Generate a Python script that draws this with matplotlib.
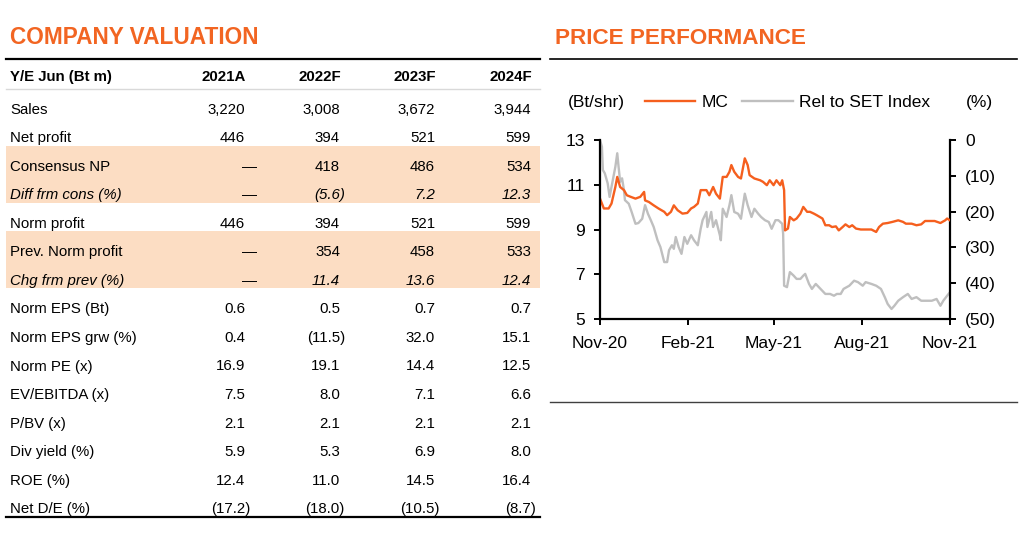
import matplotlib
matplotlib.use("Agg")
import matplotlib.pyplot as plt
import matplotlib.dates as mdates
from matplotlib.patches import Rectangle
from matplotlib.ticker import FuncFormatter
import pandas as pd

TITLE_ORANGE = "#F26522"
MC_ORANGE = "#F55F1E"
REL_GREY = "#BFBFBF"
SHADE = "#FCDDC3"

plt.rcParams["font.family"] = ["Liberation Sans", "DejaVu Sans"]

# ---- company valuation table ----
years = ["2021A", "2022F", "2023F", "2024F"]
row_labels = ["Sales", "Net profit", "Consensus NP", "Diff frm cons (%)",
              "Norm profit", "Prev. Norm profit", "Chg frm prev (%)",
              "Norm EPS (Bt)", "Norm EPS grw (%)", "Norm PE (x)",
              "EV/EBITDA (x)", "P/BV (x)", "Div yield (%)", "ROE (%)",
              "Net D/E (%)"]
sales = [3220, 3008, 3672, 3944]
net_profit = [446, 394, 521, 599]
consensus_np = [None, 418, 486, 534]
diff_cons = [None, -5.6, 7.2, 12.3]
norm_profit = [446, 394, 521, 599]
prev_norm_profit = [None, 354, 458, 533]
chg_prev = [None, 11.4, 13.6, 12.4]
norm_eps = [0.6, 0.5, 0.7, 0.7]
norm_eps_grw = [0.4, -11.5, 32.0, 15.1]
norm_pe = [16.9, 19.1, 14.4, 12.5]
ev_ebitda = [7.5, 8.0, 7.1, 6.6]
pbv = [2.1, 2.1, 2.1, 2.1]
div_yield = [5.9, 5.3, 6.9, 8.0]
roe = [12.4, 11.0, 14.5, 16.4]
net_de = [-17.2, -18.0, -10.5, -8.7]
row_values = [sales, net_profit, consensus_np, diff_cons, norm_profit,
              prev_norm_profit, chg_prev, norm_eps, norm_eps_grw, norm_pe,
              ev_ebitda, pbv, div_yield, roe, net_de]
row_decimals = [0, 0, 0, 1, 0, 0, 1, 1, 1, 1, 1, 1, 1, 1, 1]
shaded_rows = [2, 3, 5, 6]
italic_rows = [3, 6]

# ---- price performance (days since 1 Nov 2020) ----
mc_days = [0, 4, 9, 12, 16, 18, 21, 25, 28, 32, 37, 42, 46, 47, 51, 56, 61,
           67, 70, 74, 77, 81, 86, 91, 95, 98, 102, 105, 111, 114, 118, 121,
           125, 128, 132, 135, 137, 140, 144, 147, 151, 154, 156, 161, 167,
           170, 174, 177, 181, 184, 188, 190, 192, 193, 196, 198, 202, 205,
           209, 212, 216, 219, 223, 226, 232, 235, 239, 242, 246, 249, 253,
           256, 260, 263, 267, 272, 277, 283, 288, 291, 295, 300, 305, 311,
           316, 319, 325, 330, 335, 339, 344, 349, 355, 360, 362, 365]
mc_price = [10.38, 9.94, 9.94, 10.16, 10.90, 11.35, 10.90, 10.76, 10.53,
            10.46, 10.38, 10.46, 10.68, 10.30, 10.23, 10.08, 9.94, 9.79, 9.64,
            9.79, 10.08, 9.86, 9.71, 9.74, 9.94, 10.01, 10.16, 10.76, 10.76,
            10.53, 10.90, 10.60, 10.38, 11.35, 11.35, 11.58, 11.88, 11.58,
            11.35, 11.28, 12.18, 11.88, 11.43, 11.28, 11.20, 11.13, 10.98,
            11.20, 10.98, 11.20, 10.98, 11.20, 10.76, 8.96, 9.04, 9.56, 9.41,
            9.49, 9.71, 10.01, 9.79, 9.79, 9.71, 9.64, 9.49, 9.19, 9.19, 9.11,
            9.14, 8.96, 9.11, 9.23, 9.11, 9.19, 9.04, 9.00, 9.00, 9.00, 8.89,
            9.11, 9.26, 9.29, 9.34, 9.41, 9.34, 9.26, 9.26, 9.19, 9.23, 9.38,
            9.38, 9.38, 9.29, 9.41, 9.49, 9.41]
rel_days = [0, 2, 3, 5, 8, 10, 12, 14, 16, 18, 19, 21, 23, 25, 26, 30, 33, 37,
            40, 44, 47, 50, 53, 56, 60, 63, 67, 70, 72, 75, 77, 79, 82, 85, 88,
            91, 95, 98, 102, 105, 107, 111, 112, 116, 118, 121, 125, 126, 128,
            132, 135, 137, 140, 144, 147, 151, 154, 158, 161, 165, 168, 172,
            176, 179, 183, 186, 190, 191, 192, 195, 198, 202, 205, 209, 212,
            214, 218, 221, 225, 230, 235, 240, 244, 247, 251, 254, 260, 265,
            269, 274, 277, 283, 288, 293, 297, 300, 304, 307, 311, 316, 321,
            325, 330, 335, 340, 346, 351, 355, 358, 362, 365]
rel_pct = [0, -1.9, -8.4, -9.3, -12.1, -15.9, -13.1, -10.3, -7.5, -3.7, -6.5,
           -11.7, -10.7, -14.0, -16.8, -17.8, -20.1, -23.4, -23.2, -22.0,
           -18.2, -20.6, -22.4, -24.3, -28.0, -29.9, -34.1, -34.1, -30.8,
           -29.4, -30.4, -27.1, -29.9, -31.8, -27.1, -29.0, -26.6, -28.0,
           -29.4, -24.8, -22.4, -20.1, -24.3, -20.1, -24.3, -22.4, -26.6,
           -28.0, -19.2, -21.5, -18.2, -15.4, -20.1, -20.6, -22.0, -15.0,
           -18.2, -21.5, -19.2, -20.6, -21.5, -22.4, -22.9, -24.8, -22.4,
           -22.4, -23.4, -26.2, -40.7, -41.1, -36.9, -37.9, -38.8, -38.8,
           -37.9, -37.4, -40.2, -41.6, -40.2, -41.6, -43.0, -43.0, -43.5,
           -43.0, -43.0, -41.6, -40.7, -39.3, -39.7, -40.7, -39.7, -40.2,
           -40.7, -41.6, -43.9, -45.8, -47.2, -46.3, -44.9, -43.9, -43.0,
           -44.4, -43.9, -44.9, -44.9, -44.9, -44.4, -46.3, -44.9, -43.5,
           -42.5]

START = pd.Timestamp("2020-11-01")
mc_dates = START + pd.to_timedelta(mc_days, unit="D")
rel_dates = START + pd.to_timedelta(rel_days, unit="D")


def fmt_value(v, decimals):
    if v is None:
        return "\u2014"
    s = f"{abs(v):,.{decimals}f}"
    return f"({s})" if v < 0 else s


W, H = 1024, 539
fig = plt.figure(figsize=(W / 100, H / 100), dpi=100)

# overlay in pixel coordinates for the table, titles and rules
ov = fig.add_axes([0, 0, 1, 1])
ov.set_xlim(0, W)
ov.set_ylim(H, 0)
ov.axis("off")

ov.text(10, 44, "COMPANY VALUATION", color=TITLE_ORANGE, fontsize=16.3,
        fontweight="bold", va="baseline")
ov.text(555, 44, "PRICE PERFORMANCE", color=TITLE_ORANGE, fontsize=16.2,
        fontweight="bold", va="baseline")

ROW_TOP, ROW_H = 88.5, 28.55
col_right = [245, 340, 435, 531]
body_fs = 10.8

for i in shaded_rows:
    ov.add_patch(Rectangle((6, ROW_TOP + i * ROW_H), 534, ROW_H,
                           facecolor=SHADE, edgecolor="none", zorder=0))

ov.plot([6, 540], [59, 59], color="black", lw=1.6)
ov.plot([6, 540], [ROW_TOP, ROW_TOP], color="#D9D9D9", lw=1.0)
ov.plot([6, 540], [517, 517], color="black", lw=1.6)

ov.text(10, 81, "Y/E Jun (Bt m)", fontsize=body_fs, fontweight="bold",
        va="baseline")
for c, yr in enumerate(years):
    ov.text(col_right[c] + 1, 81, yr, fontsize=body_fs, fontweight="bold",
            ha="right", va="baseline")

for i, (label, vals) in enumerate(zip(row_labels, row_values)):
    base = ROW_TOP + (i + 1) * ROW_H - 3.5
    style = "italic" if i in italic_rows else "normal"
    ov.text(10, base, label, fontsize=body_fs, style=style, va="baseline")
    for c, v in enumerate(vals):
        txt = fmt_value(v, row_decimals[i])
        if v is None:
            ov.text(col_right[c] + 4, base, txt, fontsize=body_fs,
                    ha="center", va="baseline")
        else:
            x = col_right[c] + 5 if v < 0 else col_right[c]
            ov.text(x, base, txt, fontsize=body_fs, style=style,
                    ha="right", va="baseline")

ov.plot([550, 1017], [59, 59], color="black", lw=1.2)
ov.plot([550, 1017], [402, 402], color="#404040", lw=1.0)

# ---- price chart ----
ax = fig.add_axes([600 / W, (H - 319) / H, 350 / W, 179 / H])
ax2 = ax.twinx()
ln_rel, = ax2.plot(rel_dates, rel_pct, color=REL_GREY, lw=1.7)
ln_mc, = ax.plot(mc_dates, mc_price, color=MC_ORANGE, lw=1.7)
ax.set_zorder(ax2.get_zorder() + 1)
ax.patch.set_visible(False)

ax.set_xlim(START, START + pd.Timedelta(days=365))
ax.set_ylim(5, 13)
ax.set_yticks([5, 7, 9, 11, 13])
ax2.set_ylim(-50, 0)
ax2.set_yticks([-50, -40, -30, -20, -10, 0])
ax2.yaxis.set_major_formatter(
    FuncFormatter(lambda v, p: "0" if v == 0 else f"({abs(v):.0f})"))
ax.xaxis.set_major_locator(mdates.MonthLocator(bymonth=[2, 5, 8, 11]))
ax.xaxis.set_major_formatter(mdates.DateFormatter("%b-%y"))

for a in (ax, ax2):
    a.spines["top"].set_visible(False)
    for s in a.spines.values():
        s.set_linewidth(1.6)
ax.spines["right"].set_visible(False)
ax2.spines["left"].set_visible(False)
ax2.spines["bottom"].set_visible(False)

ax.tick_params(axis="both", direction="out", length=4, width=1.4,
               labelsize=12.5, pad=7)
ax.tick_params(axis="x", pad=8)
ax2.tick_params(axis="y", direction="out", length=4, width=1.4,
                labelsize=12.5, pad=7)

fig.text(568 / W, (H - 102) / H, "(Bt/shr)", fontsize=12.5, va="center")
fig.text(966 / W, (H - 102) / H, "(%)", fontsize=12.5, va="center")
fig.legend([ln_mc, ln_rel], ["MC", "Rel to SET Index"], loc="center left",
           bbox_to_anchor=(645 / W, (H - 102) / H), ncol=2, frameon=False,
           fontsize=12.5, handlelength=2.9, handletextpad=0.35,
           columnspacing=0.8, borderpad=0, borderaxespad=0)

fig.savefig("out.png", dpi=100, facecolor="white")
